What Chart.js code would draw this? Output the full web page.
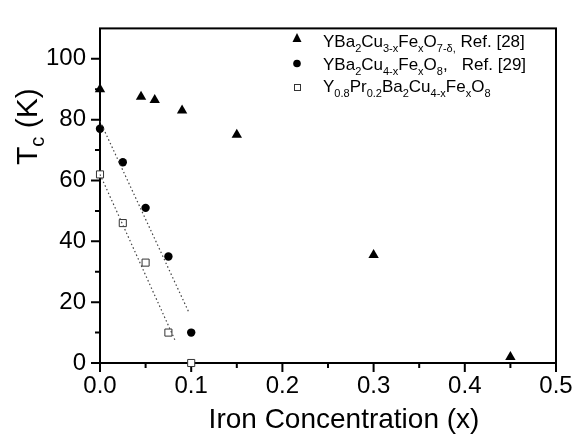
<!DOCTYPE html>
<html>
<head>
<meta charset="utf-8">
<script src="https://cdn.jsdelivr.net/npm/chart.js@4/dist/chart.umd.min.js"></script>
<style>
  html, body { margin: 0; padding: 0; background: #fff; }
  #wrap { width: 588px; height: 434px; }
</style>
</head>
<body>
<div id="wrap"><canvas id="c" width="588" height="434"></canvas></div>
<script>
// ---- data ----
const triX = [0, 0.045, 0.06, 0.09, 0.15, 0.30, 0.45];
const triY = [90, 87.5, 86.5, 83, 75, 35.5, 2];
const circX = [0, 0.025, 0.05, 0.075, 0.10];
const circY = [77, 66, 51, 35, 10];
const sqX = [0, 0.025, 0.05, 0.075, 0.10];
const sqY = [62, 46, 33, 10, 0];
const fitCircX = [0, 0.098];
const fitCircY = [79.5, 16.3];
const fitSqX = [0, 0.083];
const fitSqY = [62, 7];

const xTitle = 'Iron Concentration (x)';
const yTitleSegs = [['T', 0], ['c', 1], [' (K)', 0]];
const legendTri = [['YBa', 0], ['2', 1], ['Cu', 0], ['3-x', 1], ['Fe', 0], ['x', 1], ['O', 0], ['7-\u03b4,', 1], [' Ref. [28]', 0]];
const legendCirc = [['YBa', 0], ['2', 1], ['Cu', 0], ['4-x', 1], ['Fe', 0], ['x', 1], ['O', 0], ['8', 1], [',', 0], ['   Ref. [29]', 0]];
const legendSq = [['Y', 0], ['0.8', 1], ['Pr', 0], ['0.2', 1], ['Ba', 0], ['2', 1], ['Cu', 0], ['4-x', 1], ['Fe', 0], ['x', 1], ['O', 0], ['8', 1]];

const FONT = '"Liberation Sans", Arial, Helvetica, sans-serif';
const pts = (xs, ys) => xs.map((v, i) => ({ x: v, y: ys[i] }));

function drawRich(ctx, x, y, segs, mainSize, subSize, drop) {
  for (const [t, sub] of segs) {
    ctx.font = (sub ? subSize : mainSize) + 'px ' + FONT;
    ctx.fillText(t, x, y + (sub ? drop : 0));
    x += ctx.measureText(t).width;
  }
}

const framePlugin = {
  id: 'frame',
  beforeDatasetsDraw(chart) {
    const { ctx, chartArea: a, scales: { x, y } } = chart;
    ctx.save();
    ctx.strokeStyle = '#000';
    ctx.lineWidth = 2;
    ctx.strokeRect(a.left, a.top, a.right - a.left, a.bottom - a.top);
    ctx.beginPath();
    const yt = y.ticks.map(t => t.value);
    yt.forEach((v, i) => {
      const p = y.getPixelForValue(v);
      ctx.moveTo(a.left - 9, p); ctx.lineTo(a.left, p);
      if (i < yt.length - 1) {
        const m = y.getPixelForValue((v + yt[i + 1]) / 2);
        ctx.moveTo(a.left - 5, m); ctx.lineTo(a.left, m);
      }
    });
    const xt = x.ticks.map(t => t.value);
    xt.forEach((v, i) => {
      const p = x.getPixelForValue(v);
      ctx.moveTo(p, a.bottom); ctx.lineTo(p, a.bottom + 9);
      if (i < xt.length - 1) {
        const m = x.getPixelForValue((v + xt[i + 1]) / 2);
        ctx.moveTo(m, a.bottom); ctx.lineTo(m, a.bottom + 5);
      }
    });
    ctx.stroke();
    ctx.restore();
  },
  afterDraw(chart) {
    const { ctx } = chart;
    ctx.save();
    ctx.fillStyle = '#000';
    ctx.textBaseline = 'alphabetic';
    ctx.textAlign = 'left';
    // x title
    ctx.font = '28px ' + FONT;
    ctx.textAlign = 'center';
    ctx.fillText(xTitle, 344, 428);
    ctx.textAlign = 'left';
    // y title (rotated, with subscript)
    ctx.save();
    ctx.translate(37, 165);
    ctx.rotate(-Math.PI / 2);
    drawRich(ctx, 0, 0, yTitleSegs, 30, 20, 7);
    ctx.restore();
    // legend
    const mx = 297;
    // triangle
    ctx.beginPath();
    ctx.moveTo(mx, 33); ctx.lineTo(mx + 4.5, 42); ctx.lineTo(mx - 4.5, 42); ctx.closePath();
    ctx.fill();
    // circle
    ctx.beginPath();
    ctx.arc(mx, 63.5, 3.8, 0, Math.PI * 2);
    ctx.fill();
    // square
    ctx.strokeStyle = '#333';
    ctx.lineWidth = 1;
    ctx.strokeRect(mx - 2.5, 84.5, 6, 6);
    drawRich(ctx, 323, 46.5, legendTri, 17, 11, 5);
    drawRich(ctx, 323, 69.5, legendCirc, 17, 11, 5);
    drawRich(ctx, 323, 91.5, legendSq, 17, 11, 5);
    ctx.restore();
  }
};

new Chart(document.getElementById('c'), {
  type: 'scatter',
  data: {
    datasets: [
      { label: 'fit A', type: 'line', data: pts(fitCircX, fitCircY), borderColor: '#444', borderWidth: 1.2,
        borderDash: [1.5, 2.5], pointRadius: 0, fill: false, showLine: true, clip: false },
      { label: 'fit B', type: 'line', data: pts(fitSqX, fitSqY), borderColor: '#444', borderWidth: 1.2,
        borderDash: [1.5, 2.5], pointRadius: 0, fill: false, showLine: true, clip: false },
      { label: 'YBa2Cu3-xFexO7-d, Ref. [28]', data: pts(triX, triY), pointStyle: 'triangle', pointRadius: 6,
        backgroundColor: '#000', borderColor: '#000', borderWidth: 0, clip: false },
      { label: 'YBa2Cu4-xFexO8, Ref. [29]', data: pts(circX, circY), pointStyle: 'circle', pointRadius: 4.2,
        backgroundColor: '#000', borderColor: '#000', borderWidth: 0, clip: false },
      { label: 'Y0.8Pr0.2Ba2Cu4-xFexO8', data: pts(sqX, sqY), pointStyle: 'rect', pointRadius: 5,
        backgroundColor: '#fff', borderColor: '#333', borderWidth: 1, clip: false }
    ]
  },
  options: {
    responsive: false,
    animation: false,
    layout: { padding: { left: 0, right: 32, top: 10, bottom: 0 } },
    plugins: { legend: { display: false }, tooltip: { enabled: false } },
    scales: {
      x: {
        type: 'linear', min: 0, max: 0.5,
        grid: { display: false, drawTicks: false },
        border: { display: false },
        ticks: { stepSize: 0.1, color: '#000', padding: 9, font: { family: FONT, size: 24 },
          callback: v => Number(v).toFixed(1), maxRotation: 0 },
        afterFit: s => { s.height = 71; }
      },
      y: {
        type: 'linear', min: 0, max: 110,
        grid: { display: false, drawTicks: false },
        border: { display: false },
        ticks: { stepSize: 20, includeBounds: false, color: '#000', padding: 14, font: { family: FONT, size: 24 },
          callback: v => (v % 20 === 0 && v <= 100) ? String(v) : '' },
        afterFit: s => { s.width = 100; }
      }
    }
  },
  plugins: [framePlugin]
});
</script>
</body>
</html>
